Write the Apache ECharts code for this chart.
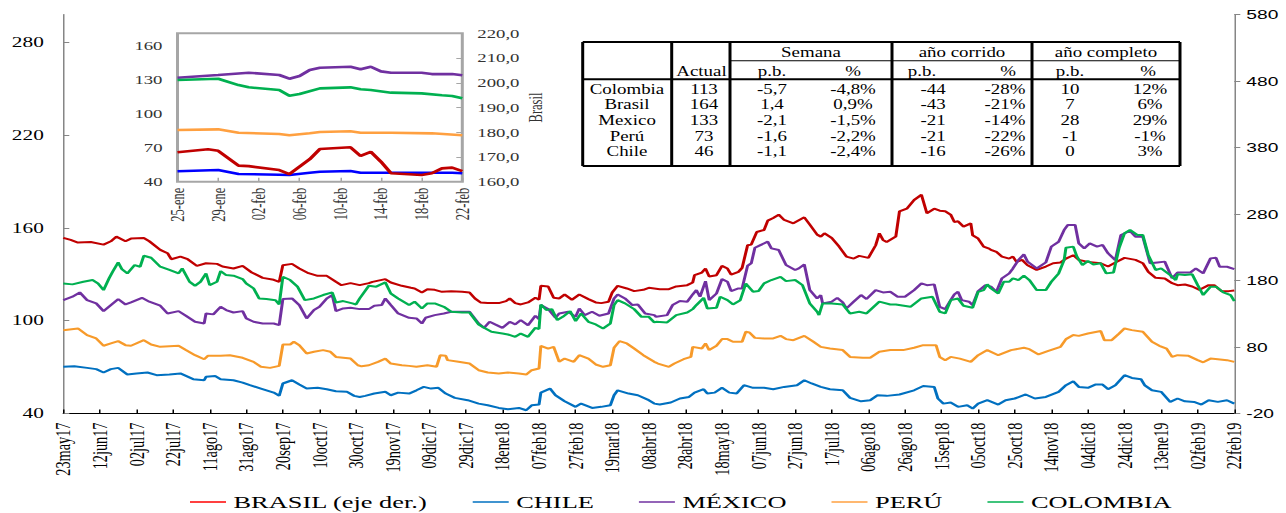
<!DOCTYPE html>
<html>
<head>
<meta charset="utf-8">
<script src="https://cdn.jsdelivr.net/npm/echarts@6/dist/echarts.min.js"></script>
<style>
html,body{margin:0;padding:0;background:#fff;overflow:hidden;}
#c{height:513px;transform-origin:0 0;}
</style>
</head>
<body>
<div id="c"></div>
<script>
// ---------- data ----------
const xLabels = ['23may17','12jun17','02jul17','22jul17','11ago17','31ago17','20sep17','10oct17','30oct17','19nov17','09dic17','29dic17','18ene18','07feb18','27feb18','19mar18','08abr18','28abr18','18may18','07jun18','27jun18','17jul18','06ago18','26ago18','15sep18','05oct18','25oct18','14nov18','04dic18','24dic18','13ene19','02feb19','22feb19'];
const insetLabels = ['25-ene','29-ene','02-feb','06-feb','10-feb','14-feb','18-feb','22-feb'];

// [day since 23may17, value]
const brasil = [[0,244],[4,241],[8,237],[15,238],[22,234],[26,239],[29,246],[34,239],[37,243],[44,244],[47,239],[53,226],[57,221],[59,212],[64,216],[68,212],[73,202],[78,206],[84,205],[87,201],[93,198],[98,202],[103,192],[109,184],[115,181],[118,178],[120,203],[125,205],[129,198],[134,191],[139,187],[144,187],[149,178],[152,173],[157,176],[162,173],
[167,176],[169,178],[176,182],[179,177],[185,172],[190,169],[192,168],[196,162],[199,167],[203,166],[207,163],[212,164],[218,163],[222,162],[225,153],[228,147],[232,146],[238,146],[242,149],[244,153],[247,146],[250,144],[254,147],[258,154],[260,151],[261,172],[265,171],[268,154],[271,153],[274,159],[278,151],[282,159],[287,152],[291,147],[294,146],[298,148],[300,162],[303,172],[308,168],[312,164],[317,166],[320,169],[323,168],
[326,167],[331,167],[335,171],[341,173],[344,177],[345,188],[349,192],[351,198],[353,186],[357,188],[360,202],[363,198],[365,189],[369,193],[371,199],[374,233],[376,234],[379,253],[383,256],[385,270],[388,274],[391,279],[394,271],[399,266],[405,275],[408,264],[412,249],[414,246],[416,251],[420,244],[424,231],[428,216],[432,213],[435,217],[440,214],[444,233],[446,251],[448,241],[450,238],[455,246],[457,284],[461,288],[465,301],[469,309],[472,281],[476,288],[479,285],
[482,284],[485,279],[487,268],[489,269],[492,261],[496,266],[497,248],[500,243],[503,231],[506,228],[507,226],[510,223],[513,216],[517,213],[519,216],[521,208],[524,211],[527,203],[532,196],[537,201],[541,206],[545,207],[548,213],[552,218],[555,211],[560,208],[567,206],[571,201],[575,207],[580,214],[586,211],[590,206],[593,193],[597,184],[602,183],[606,176],[609,173],[613,174],[617,171],[621,166],[626,173],[629,173],[633,164],[637,164],[640,165]];

const chile = [[0,70.2],[6,70.6],[13,69.5],[18,68.7],[22,66.5],[26,68.7],[30,69.5],[35,65.2],[40,65.9],[46,66.5],[51,64.8],[58,65.2],[64,65.9],[71,62.2],[77,61.5],[78,63.7],[83,64.3],[86,62.2],[93,61.5],[98,60],[102,58.3],[108,56.1],[115,53.5],[118,51.4],[120,59.4],[125,61.5],[129,58.7],[133,56.1],[139,56.6],[144,55.7],[149,54.4],[155,54],[159,51.4],[162,50.7],
[165,51.4],[170,52.9],[176,54],[179,51.8],[183,53.5],[189,52.9],[193,55],[197,57.2],[201,56.1],[205,56.6],[209,52.9],[214,50.1],[221,48.6],[227,46.4],[232,45.3],[238,43.6],[243,42.8],[249,43.6],[253,42.1],[256,45.3],[260,45.8],[261,53.5],[266,56.1],[269,51.8],[274,47.9],[280,44.3],[283,46.4],[289,43.6],[294,44.3],[299,45.3],[301,51.8],[303,55],[309,52.9],[314,51.8],[320,48.6],[323,46.4],
[326,45.8],[332,47.1],[337,49.7],[342,50.7],[345,53.5],[350,55.7],[352,52.9],[356,53.5],[360,56.6],[364,53.5],[368,52.9],[372,58.3],[377,56.6],[383,56.6],[388,55.7],[394,57.2],[401,58.3],[405,61.5],[409,59.4],[414,57.2],[419,55.7],[426,55],[430,50.1],[436,47.9],[441,48.6],[445,51.8],[450,51.4],[457,52.3],[465,55],[470,57.8],[476,57.2],[478,49.7],[481,46.4],
[485,47.1],[489,44.3],[494,45.3],[497,43.2],[500,46.4],[505,48.6],[511,45.8],[515,48.6],[520,49.7],[526,52.3],[531,49.7],[537,50.7],[544,54],[548,58.3],[552,60.9],[555,57.2],[560,56.6],[564,58.7],[568,58.7],[571,55.7],[575,58.3],[580,64.8],[584,63],[589,62.2],[591,58.3],[595,55],[600,54],[605,47.5],[609,49.7],[613,47.9],[618,47.5],[622,45.8],[626,48.6],[631,47.5],[636,48.6],[640,46.4]];

const mexico = [[0,113.3],[5,115.5],[9,118.3],[13,113.3],[18,111.2],[22,106.2],[26,110.1],[30,114],[34,110.5],[37,111.8],[43,114.8],[47,112.3],[53,109.7],[57,104.7],[63,106.2],[67,103.2],[72,99.3],[77,98.2],[78,104.7],[82,104.1],[86,109],[89,106.9],[93,105.3],[98,106.2],[100,101.5],[104,99.3],[109,98.2],[115,98.2],[118,97.1],[120,114],[125,114.4],[129,110.1],[133,101.5],[137,106.9],[140,109],[144,114.4],[147,116.6],[149,106.2],[153,107.9],[157,108.4],[162,107.5],
[167,107.5],[170,109.7],[174,110.1],[176,114.4],[179,110.1],[183,104.7],[189,101.9],[193,101.5],[196,98.2],[198,101.9],[203,103.6],[208,104.7],[212,105.8],[222,105.8],[227,98.2],[230,95.4],[233,99.3],[236,97.6],[240,95.4],[244,99.3],[247,97.6],[250,100.4],[254,97.1],[258,103.2],[260,101],[261,110.1],[265,107.5],[269,101.9],[271,104.7],[276,105.8],[280,102.5],[282,107.9],[285,103.6],[289,105.8],[293,103.2],[298,104.7],[301,114.4],[303,117],[307,114.4],[311,110.1],[314,110.5],[318,104.7],[323,103.6],
[324,102.5],[330,103.6],[333,110.1],[337,112.7],[341,112.3],[344,117],[346,119.8],[348,115.5],[351,125.6],[353,113.3],[357,117.6],[360,126.9],[363,125.2],[365,119.2],[369,120.9],[371,120.9],[374,135.6],[376,137.1],[378,147.2],[381,148.9],[385,151.1],[387,146.8],[391,145.7],[395,136],[400,132.8],[402,133.8],[405,136.4],[408,119.8],[412,114.4],[414,116.6],[415,111.2],[420,112.3],[423,114.8],[426,111.8],[428,107.9],[432,112.3],[436,116.6],[439,114],[444,119.8],[448,118.3],[452,118.7],[456,115.5],[460,115.5],[465,119.8],[469,124.1],[472,123],[476,123.5],[479,109],
[482,107.5],[485,113.3],[487,117],[489,118.7],[491,113.3],[495,112.3],[497,110.1],[500,119.2],[504,123],[507,122],[510,118.7],[513,127.4],[517,130.6],[519,133.8],[522,139.2],[525,142.9],[527,138.2],[532,133.8],[537,137.7],[540,147.9],[544,151.1],[547,158.7],[549,161.9],[553,161.9],[555,150],[558,146.8],[561,150],[565,147.9],[568,149],[571,143.6],[575,139.2],[578,155.4],[583,158],[586,154.3],[590,154.3],[594,137.1],[598,137.7],[602,138.2],[606,127.4],[609,131.2],[616,131.2],[619,133.8],[623,130.6],[627,140.3],[630,140.7],[632,134.9],[636,134.9],[640,133.4]];

const peru = [[0,93.9],[8,95],[13,90.7],[18,88.5],[22,83.8],[26,85.3],[30,86.8],[34,84.2],[37,83.8],[44,87.4],[48,84.6],[53,83.1],[63,83.8],[67,81],[72,77.7],[77,75.1],[79,77.3],[86,77.3],[91,77.7],[98,76],[104,73.4],[108,70.2],[113,69.5],[118,70.8],[120,84.6],[124,84.6],[126,86.4],[129,84.2],[133,78.8],[137,79.9],[142,81],[146,79.9],[149,76.6],[157,75.5],[161,71.2],
[163,70.5],[167,71.2],[172,73.4],[176,75.5],[179,72.3],[185,71.2],[189,70.8],[193,70.2],[199,71.2],[204,70.2],[206,77.7],[209,77.3],[210,74.5],[216,73.4],[222,72.3],[227,68],[232,66.5],[238,65.9],[243,66.5],[249,65.9],[253,65.2],[256,68],[260,69.1],[261,83.8],[265,82],[268,83.1],[271,73.4],[274,75.5],[279,73.4],[282,77.7],[287,75.5],[291,71.7],[295,70.2],[299,71.2],[301,82.5],[304,86.8],[308,85.3],[312,82],[317,77.7],[323,73.4],
[325,72.3],[331,70.2],[334,72.3],[339,75.1],[343,76.6],[344,83.1],[349,82],[351,85.3],[353,81],[357,83.8],[360,88.1],[363,88.1],[366,86.4],[371,86.4],[373,92.8],[375,92.4],[378,88.9],[383,88.5],[388,88.5],[392,90.2],[395,88.1],[399,87.4],[405,90.2],[410,86.4],[414,83.1],[419,82],[426,81],[430,76.6],[437,76],[441,76],[446,79.9],[452,81],[459,81],[465,82.5],[470,84.2],[477,84.2],[479,76.6],
[482,74.5],[485,76.6],[490,75.5],[496,73.4],[500,77.7],[505,81],[511,77.7],[518,81],[525,82.5],[528,81.6],[533,78.2],[538,80.3],[545,83.1],[548,88.1],[552,90.7],[555,90.2],[560,91.7],[567,93.3],[569,87.4],[573,87.4],[577,91.7],[580,95],[584,93.9],[590,92.8],[595,86.4],[599,83.8],[603,82],[606,76.6],[609,77.7],[615,77.3],[620,74.5],[623,73.1],[627,75.5],[631,75.1],[636,74.5],[640,73.4]];

const colombia = [[0,124.1],[5,123.5],[11,125.2],[16,126.3],[19,124.1],[22,119.8],[25,127.4],[27,131.7],[30,137.7],[32,133.4],[35,130.6],[39,136],[42,134.9],[44,142],[48,140.7],[53,134.9],[58,132.8],[63,130.6],[65,133.8],[69,125.2],[72,122.6],[75,125.2],[78,130.6],[80,123],[84,125.2],[86,132.1],[89,129.5],[93,129.1],[98,126.9],[100,124.1],[104,120.9],[107,114.4],[111,114],[116,113.3],[118,110.5],[120,128.4],[124,126.3],[128,122],[132,113.3],[137,114.4],[142,116.6],[147,118.3],[149,111.8],[153,112.7],[158,111.2],[160,110.5],[162,114.4],
[167,122.6],[171,122],[176,124.8],[179,117.6],[183,114.4],[189,110.1],[192,112.3],[196,107.9],[199,111.2],[203,111.2],[208,109],[212,105.8],[218,105.3],[222,105.3],[227,97.6],[230,95.4],[234,92.8],[240,91.7],[243,91.1],[247,89.6],[250,91.7],[254,89.6],[258,95.4],[260,94.6],[261,110.5],[264,106.9],[267,107.5],[270,100.4],[273,102.5],[277,106.2],[280,99.7],[283,104.7],[287,99.3],[291,97.6],[295,95],[299,98.2],[301,110.1],[303,113.3],[307,111.2],[312,107.5],[316,102.5],[320,102.5],[323,98.9],
[324,99.3],[330,98.9],[335,103.6],[341,105.3],[344,107.5],[346,110.1],[350,114.8],[352,107.9],[357,108.4],[359,115.5],[363,113.3],[366,110.5],[370,113.3],[373,124.1],[377,118.7],[380,119.2],[383,124.1],[387,126.3],[392,128.4],[395,125.6],[400,126.3],[404,123],[408,111.2],[412,105.8],[413,103.6],[415,111.2],[420,111.2],[426,110.5],[430,104.7],[435,105.8],[439,104.7],[446,112.3],[452,110.5],[455,110.5],[463,109],[469,114.4],[475,115.5],[479,105.8],
[482,104.7],[485,113.3],[489,114.4],[492,109.7],[497,108.4],[500,118.7],[503,119.8],[505,123.5],[507,120.9],[511,117.6],[514,125.2],[517,125.2],[519,127.4],[522,126.3],[525,129.1],[528,126.3],[532,119.8],[537,119.8],[540,125.2],[544,130.6],[547,139.2],[548,147.2],[552,147.9],[554,141.4],[557,136],[560,138.6],[563,136.4],[567,137.1],[570,130.6],[574,131.2],[577,146.8],[580,156.5],[583,158.7],[587,155.4],[590,155.4],[593,142.5],[597,132.8],[600,133.8],[605,129.5],[608,126.3],[609,130],[613,129.5],[617,130],[620,123],[623,116.6],[627,122],[630,122],[634,118.3],[638,116.6],[640,112.7]];

// inset: [day since 25-ene, value]
const insetBrasil = [[0,171.9],[3,173.1],[4,172.5],[6,166.5],[7,166.3],[10,164.7],[11,163.1],[12,166.1],[13,169.1],[14,173.2],[17,173.9],[18,170.4],[19,172.1],[20,168.1],[21,163.4],[24,162.7],[25,163.4],[26,165.4],[27,165.7],[28,164.3]];
const insetMexico = [[0,131.8],[4,134.2],[7,136.2],[10,134.2],[11,130.9],[12,133.3],[13,138.6],[14,140.6],[17,141.5],[18,139.2],[19,141.5],[20,137.4],[21,136.2],[24,136.2],[25,135],[27,135],[28,133.9]];
const insetColombia = [[0,129.8],[4,130.9],[6,125.3],[7,123.3],[10,120.9],[11,115.9],[12,117.4],[14,122.4],[17,123.3],[18,121.6],[19,120.9],[21,118.6],[24,118],[26,116.3],[27,115.6],[28,113.6]];
const insetPeru = [[0,85.6],[4,86.2],[6,83.2],[10,82.1],[11,81],[13,82.7],[14,83.9],[17,84.5],[18,83.2],[21,83.2],[25,82.7],[28,81]];
const insetChile = [[0,49.2],[4,50.3],[6,46.8],[10,46.2],[11,45.9],[13,47.9],[14,48.8],[17,49.4],[18,47.9],[27,47.9],[28,47.4]];

// table
const tableGroups = ['Semana','año corrido','año completo'];
const tableSub = ['p.b.','%','p.b.','%','p.b.','%'];
const tableCountries = ['Colombia','Brasil','Mexico','Perú','Chile'];
const tableActual = ['113','164','133','73','46'];
const tableWeekPb = ['-5,7','1,4','-2,1','-1,6','-1,1'];
const tableWeekPct = ['-4,8%','0,9%','-1,5%','-2,2%','-2,4%'];
const tableYtdPb = ['-44','-43','-21','-21','-16'];
const tableYtdPct = ['-28%','-21%','-14%','-22%','-26%'];
const tableYearPb = ['10','7','28','-1','0'];
const tableYearPct = ['12%','6%','29%','-1%','3%'];

// ---------- layout ----------
const S = 1.5;               // horizontal stretch of the original picture
const X = v => v / S;
const el = document.getElementById('c');
el.style.width = (1286 / S) + 'px';
el.style.transform = 'scaleX(' + S + ')';

const SERIF = 'Liberation Serif, Times New Roman, serif';
const SANS = 'Liberation Sans, Arial, sans-serif';

const chart = echarts.init(el, null, {renderer: 'svg'});

function line(name, data, color, xi, yi, w) {
  return {
    name: name, type: 'line', data: data, xAxisIndex: xi, yAxisIndex: yi,
    showSymbol: false, symbol: 'none', animation: false,
    lineStyle: {color: color, width: w}, itemStyle: {color: color},
    emphasis: {disabled: true}
  };
}

// table graphics
const g = [];
const T = {l: 582.7, c1: 671.7, c2: 730, c3: 892, c4: 1032, r: 1180, top: 42, mid: 60.7, hdr: 79.3, bot: 166};
function hl(x1, x2, y, w) { g.push({type: 'line', shape: {x1: X(x1), y1: y, x2: X(x2), y2: y}, style: {stroke: '#000', lineWidth: w}, z: 10}); }
function vl(x, y1, y2, w) { g.push({type: 'line', shape: {x1: X(x), y1: y1, x2: X(x), y2: y2}, style: {stroke: '#000', lineWidth: w}, z: 10}); }
function tx(text, x, y) {
  g.push({type: 'text', x: X(x), y: y, z: 11, scaleY: 1.18,
    style: {text: text, font: '12.6px ' + SERIF, fontSize: 12.6, fontFamily: SERIF, fill: '#000',
      align: 'center', verticalAlign: 'middle', textAlign: 'center', textVerticalAlign: 'middle'}});
}
g.push({type: 'rect', shape: {x: X(T.l), y: T.top, width: X(T.r - T.l), height: T.bot - T.top}, style: {fill: '#fff'}, z: 9});
hl(T.l, T.r, T.top, 2); hl(T.l, T.r, T.bot, 2); hl(T.l, T.r, T.hdr, 2); hl(T.c2, T.r, T.mid, 1);
vl(T.l, T.top, T.bot, 2); vl(T.r, T.top, T.bot, 2);
vl(T.c1, T.top, T.bot, 2); vl(T.c2, T.top, T.bot, 2); vl(T.c3, T.top, T.bot, 2); vl(T.c4, T.top, T.bot, 2);
const groupX = [811, 962, 1106];
tableGroups.forEach((t, i) => tx(t, groupX[i], 52.5));
tx('Actual', 701.5, 71.2);
const subX = [772, 853, 922, 1008, 1070, 1148];
tableSub.forEach((t, i) => tx(t, subX[i], 71.2));
const colX = [627, 704, 772, 853, 933, 1005, 1070, 1150];
const rowY = [89, 104.5, 120, 135.7, 151.5];
const cols = [tableCountries, tableActual, tableWeekPb, tableWeekPct, tableYtdPb, tableYtdPct, tableYearPb, tableYearPct];
rowY.forEach((y, r) => cols.forEach((c, j) => tx(c[r], colX[j], y)));

const legendColors = ['#ff0000', '#0070c0', '#7030a0', '#ffa040', '#00b050'];
const legendNames = ['BRASIL (eje der.)', 'CHILE', 'MÉXICO', 'PERÚ', 'COLOMBIA'];

const option = {
  backgroundColor: '#fff',
  animation: false,
  legend: {
    data: legendNames.map((n, i) => ({name: n, itemStyle: {color: legendColors[i]}})),
    icon: 'rect', itemWidth: X(36), itemHeight: 1.6, itemGap: 30,
    left: X(190), top: 493, padding: 0,
    textStyle: {fontFamily: SERIF, fontSize: 17.6, color: '#000'}
  },
  grid: [
    {left: X(63.3), top: 14.5, width: X(1171), height: 399},
    {left: X(177.5), top: 33.3, width: X(284.8), height: 148.4, show: true,
     borderColor: '#a6a6a6', borderWidth: 2, backgroundColor: '#fff'}
  ],
  xAxis: [
    {type: 'value', gridIndex: 0, min: 0, max: 640, interval: 20,
     axisLine: {show: true, onZero: false, lineStyle: {color: '#000', width: 1}},
     axisTick: {show: true, inside: true, length: 4, lineStyle: {color: '#000'}},
     splitLine: {show: false},
     axisLabel: {rotate: 90, margin: 9, fontFamily: SERIF, fontSize: 14.3, color: '#000',
       formatter: v => xLabels[Math.round(v / 20)] || ''}},
    {type: 'value', gridIndex: 1, min: 0, max: 28, interval: 4,
     axisLine: {show: false},
     axisTick: {show: true, inside: true, length: 4, lineStyle: {color: '#a6a6a6'}},
     splitLine: {show: false},
     axisLabel: {rotate: 90, margin: 6, fontFamily: SERIF, fontSize: 12.5, color: '#333',
       formatter: v => insetLabels[Math.round(v / 4)] || ''}}
  ],
  yAxis: [
    {type: 'value', gridIndex: 0, position: 'left', min: 40, max: 298, interval: 60,
     axisLine: {show: true, lineStyle: {color: '#868686'}},
     axisTick: {show: true, inside: true, length: 4, lineStyle: {color: '#868686'}},
     splitLine: {show: false},
     axisLabel: {margin: 13, fontFamily: SERIF, fontSize: 14.2, color: '#000', showMaxLabel: false}},
    {type: 'value', gridIndex: 0, position: 'right', min: -20, max: 580, interval: 100,
     axisLine: {show: true, lineStyle: {color: '#868686'}},
     axisTick: {show: true, length: 4, lineStyle: {color: '#868686'}},
     splitLine: {show: false},
     axisLabel: {margin: 8, fontFamily: SANS, fontSize: 12.8, color: '#000'}},
    {type: 'value', gridIndex: 1, position: 'left', min: 40, max: 171, interval: 30,
     axisLine: {show: false}, axisTick: {show: false}, splitLine: {show: false},
     axisLabel: {margin: 10, fontFamily: SERIF, fontSize: 12.5, color: '#333', showMaxLabel: false}},
    {type: 'value', gridIndex: 1, position: 'right', min: 160, max: 220, interval: 10,
     axisLine: {show: false},
     axisTick: {show: true, inside: true, length: 4, lineStyle: {color: '#a6a6a6'}},
     splitLine: {show: false},
     name: 'Brasil', nameLocation: 'middle', nameRotate: 90, nameGap: 41,
     nameTextStyle: {fontFamily: SERIF, fontSize: 12.5, color: '#333'},
     axisLabel: {margin: 10, fontFamily: SERIF, fontSize: 12.5, color: '#333',
       formatter: v => v.toFixed(1).replace('.', ',')}}
  ],
  series: [
    line('BRASIL (eje der.)', brasil, '#c00000', 0, 1, 2),
    line('CHILE', chile, '#0070c0', 0, 0, 2),
    line('MÉXICO', mexico, '#7030a0', 0, 0, 2),
    line('PERÚ', peru, '#f79a2a', 0, 0, 2),
    line('COLOMBIA', colombia, '#00b050', 0, 0, 2),
    line('Mexico detalle', insetMexico, '#7030a0', 1, 2, 2.6),
    line('Colombia detalle', insetColombia, '#00b050', 1, 2, 2.6),
    line('Peru detalle', insetPeru, '#ffa040', 1, 2, 2.6),
    line('Chile detalle', insetChile, '#0000ff', 1, 2, 2.6),
    line('Brasil detalle', insetBrasil, '#c00000', 1, 3, 2.6)
  ],
  graphic: g
};
chart.setOption(option);
</script>
</body>
</html>
